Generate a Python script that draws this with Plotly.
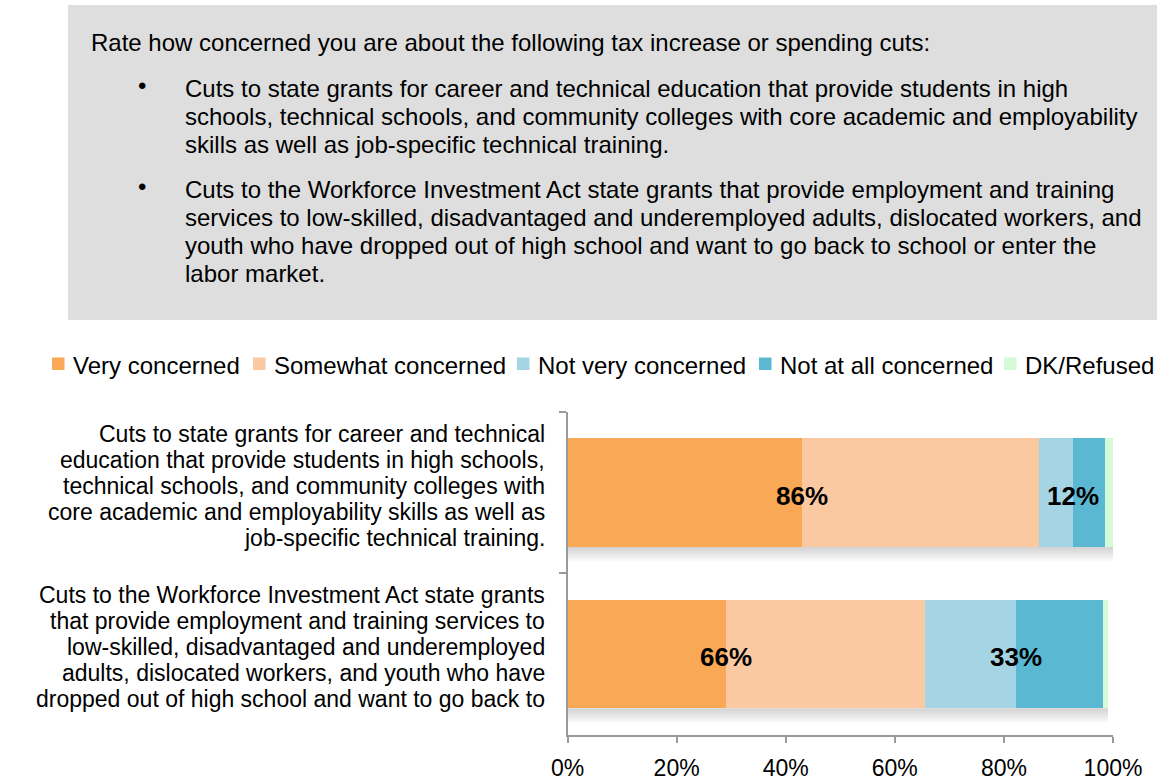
import plotly.graph_objects as go

W, H = 1157, 780
FONT = "Liberation Sans, Arial, sans-serif"

# Survey responses (% of respondents)
categories = ["cte", "wia"]
series_names = ["Very concerned", "Somewhat concerned", "Not very concerned",
                "Not at all concerned", "DK/Refused"]
very_concerned = [43.0, 29.1]
somewhat_concerned = [43.4, 36.5]
not_very_concerned = [6.3, 16.6]
not_at_all_concerned = [5.8, 16.0]
dk_refused = [1.5, 0.9]
colors = ["#F9A856", "#FBC9A1", "#A5D5E5", "#5AB8D3", "#D5FAD7"]

category_lines = [
    ["Cuts to state grants for career and technical",
     "education that provide students in high schools,",
     "technical schools, and community colleges with",
     "core academic and employability skills as well as",
     "job-specific technical training."],
    ["Cuts to the Workforce Investment Act state grants",
     "that provide employment and training services to",
     "low-skilled, disadvantaged and underemployed",
     "adults, dislocated workers, and youth who have",
     "dropped out of high school and want to go back to"],
]

question = "Rate how concerned you are about the following tax increase or spending cuts:"
bullets = [
    ["Cuts to state grants for career and technical education that provide students in high",
     "schools, technical schools, and community colleges with core academic and employability",
     "skills as well as job-specific technical training."],
    ["Cuts to the Workforce Investment Act state grants that provide employment and training",
     "services to low-skilled, disadvantaged and underemployed adults, dislocated workers, and",
     "youth who have dropped out of high school and want to go back to school or enter the",
     "labor market."],
]

x_ticks = [0, 20, 40, 60, 80, 100]

TXT = 24
BAR_GAP = 0.33


def px(x):
    return x / W


def py(y):
    return 1 - y / H


series_values = [very_concerned, somewhat_concerned, not_very_concerned,
                 not_at_all_concerned, dk_refused]

fig = go.Figure()
for name, vals, col in zip(series_names, series_values, colors):
    fig.add_trace(go.Bar(
        y=categories, x=vals, name=name, orientation="h",
        marker=dict(color=col, line=dict(width=0)),
        showlegend=False, hoverinfo="x+name",
    ))

annotations = []
shapes = []

# Question panel
shapes.append(dict(type="rect", xref="paper", yref="paper",
                   x0=px(68), x1=1.0, y0=py(320), y1=py(5),
                   fillcolor="#DEDEDE", line=dict(width=0), layer="below"))
annotations.append(dict(xref="paper", yref="paper", x=px(89), y=py(42),
                        xanchor="left", yanchor="middle", showarrow=False,
                        text=question, font=dict(family=FONT, size=TXT, color="#000")))
line_y = [[88, 116, 144], [189, 217, 245, 273]]
for block, ys in zip(bullets, line_y):
    annotations.append(dict(xref="paper", yref="paper", x=px(142), y=py(ys[0] - 3),
                            xanchor="center", yanchor="middle", showarrow=False,
                            text="•", font=dict(family=FONT, size=TXT, color="#000")))
    for line, yy in zip(block, ys):
        annotations.append(dict(xref="paper", yref="paper", x=px(183), y=py(yy),
                                xanchor="left", yanchor="middle", showarrow=False,
                                text=line, font=dict(family=FONT, size=TXT, color="#000")))

# Legend row
legend_text_x = [72, 273, 537, 779, 1024]
for name, col, tx in zip(series_names, colors, legend_text_x):
    shapes.append(dict(type="rect", xref="paper", yref="paper",
                       x0=px(tx - 20), x1=px(tx - 7.5), y0=py(370), y1=py(357.5),
                       fillcolor=col, line=dict(width=0)))
    annotations.append(dict(xref="paper", yref="paper", x=px(tx - 1), y=py(365),
                            xanchor="left", yanchor="middle", showarrow=False,
                            text=name, font=dict(family=FONT, size=TXT, color="#000")))

# Soft drop shadow under each bar
half = (1 - BAR_GAP) / 2
step = 0.0124
for i in range(len(categories)):
    total = (very_concerned[i] + somewhat_concerned[i] + not_very_concerned[i]
             + not_at_all_concerned[i] + dk_refused[i])
    for k in range(7):
        shapes.append(dict(type="rect", xref="x", yref="y",
                           x0=0, x1=total,
                           y0=i + half + k * step, y1=i + half + (k + 1) * step,
                           fillcolor="#7A7A7A", opacity=0.32 - k * 0.043,
                           line=dict(width=0), layer="below"))

# Category labels, right-aligned left of the axis
spacing = 26
for cat, lines in zip(categories, category_lines):
    n = len(lines)
    for i, line in enumerate(lines):
        shift = -(i - (n - 1) / 2) * spacing + 7
        annotations.append(dict(xref="paper", yref="y", x=px(547), y=cat,
                                yshift=shift, xanchor="right", yanchor="middle",
                                showarrow=False, text=line,
                                font=dict(family=FONT, size=23, color="#000")))

# Net concerned / net not concerned labels
for i, cat in enumerate(categories):
    concerned = very_concerned[i] + somewhat_concerned[i]
    not_concerned = not_very_concerned[i] + not_at_all_concerned[i]
    annotations.append(dict(xref="x", yref="y", x=very_concerned[i], y=cat, yshift=-3,
                            xanchor="center", yanchor="middle", showarrow=False,
                            text=f"<b>{round(concerned)}%</b>",
                            font=dict(family=FONT, size=26, color="#000")))
    annotations.append(dict(xref="x", yref="y",
                            x=concerned + not_very_concerned[i], y=cat, yshift=-3,
                            xanchor="center", yanchor="middle", showarrow=False,
                            text=f"<b>{round(not_concerned)}%</b>",
                            font=dict(family=FONT, size=26, color="#000")))

fig.update_layout(
    width=W, height=H,
    margin=dict(l=0, r=0, t=0, b=0),
    paper_bgcolor="white", plot_bgcolor="white",
    barmode="stack", bargap=BAR_GAP,
    showlegend=False,
    shapes=shapes, annotations=annotations,
    xaxis=dict(domain=[px(567.5), px(1113)], range=[0, 100], automargin=False,
               tickvals=x_ticks, ticktext=[f"{t}%" for t in x_ticks],
               showgrid=False, zeroline=False,
               showline=True, linecolor="#9A9A9A", linewidth=1.5,
               ticks="outside", ticklen=6, tickcolor="#9A9A9A", tickwidth=1.5,
               ticklabelstandoff=6,
               tickfont=dict(family=FONT, size=23, color="#000")),
    yaxis=dict(domain=[py(735), py(411.7)], range=[1.5, -0.5], automargin=False,
               type="category", categoryorder="array", categoryarray=categories,
               showticklabels=False, showgrid=False, zeroline=False,
               showline=True, linecolor="#9A9A9A", linewidth=1.5,
               ticks="outside", tickson="boundaries", ticklen=7,
               tickcolor="#9A9A9A", tickwidth=1.5),
)

fig.write_html("out.html")
